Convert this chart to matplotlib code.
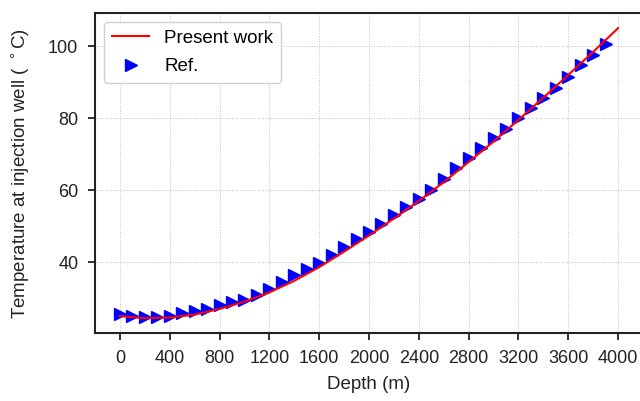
import numpy as np
import matplotlib.pyplot as plt

plt.rcParams['font.family'] = ['Liberation Sans', 'DejaVu Sans']

# present work (red line)
depth_line = [0, 200, 400, 600, 800, 1000, 1200, 1400, 1600, 1800, 2000,
              2200, 2400, 2600, 2800, 3000, 3200, 3400, 3600, 3800, 4000]
temp_line = [25.0, 24.4, 24.6, 25.4, 27.0, 29.0, 31.6, 34.8, 38.6, 42.9, 47.4,
             52.1, 57.0, 62.2, 67.8, 73.5, 79.5, 85.7, 92.0, 98.4, 105.0]

# reference (blue triangles)
depth_ref = list(range(0, 4000, 100))
temp_ref = [25.6, 25.0, 24.8, 24.8, 25.0, 25.9, 26.4, 26.9, 28.0, 29.0,
            29.6, 30.8, 32.4, 34.5, 36.4, 38.2, 39.8, 41.9, 44.1, 46.3,
            48.4, 50.7, 53.1, 55.2, 57.4, 60.0, 63.2, 66.1, 68.8, 71.6,
            74.4, 77.1, 79.9, 82.7, 85.5, 88.5, 91.5, 94.7, 97.5, 100.7]

fig = plt.figure(figsize=(6.4, 4.01), dpi=100)
ax = fig.add_axes([95/640, 1-333/401, 548/640, 320/401])

ax.plot(depth_line, temp_line, color='red', lw=1.5, label='Present work', zorder=3)
ax.plot(depth_ref, temp_ref, '>', color='blue', ms=8, label='Ref.', zorder=2)

ax.set_xlim(-200, 4200)
ax.set_ylim(20.3, 109.2)
ax.set_xticks(np.arange(0, 4001, 400))
ax.set_yticks([40, 60, 80, 100])
ax.grid(True, color='#c0c0c0', lw=0.7, ls=':')
ax.tick_params(labelsize=13, length=5, width=1.3, pad=7, colors='#222222')
for s in ax.spines.values():
    s.set_linewidth(1.5)
    s.set_color('#222222')

ax.set_xlabel('Depth (m)', fontsize=13.5, color='#222222', labelpad=7)
ax.set_ylabel(r'Temperature at injection well ( $^\circ$C)', fontsize=13.5,
              color='#222222', labelpad=12)

leg = ax.legend(loc='upper left', fontsize=13.5, framealpha=1,
                edgecolor='#d0d0d0', labelspacing=0.6)

fig.savefig('out.png', dpi=100)
